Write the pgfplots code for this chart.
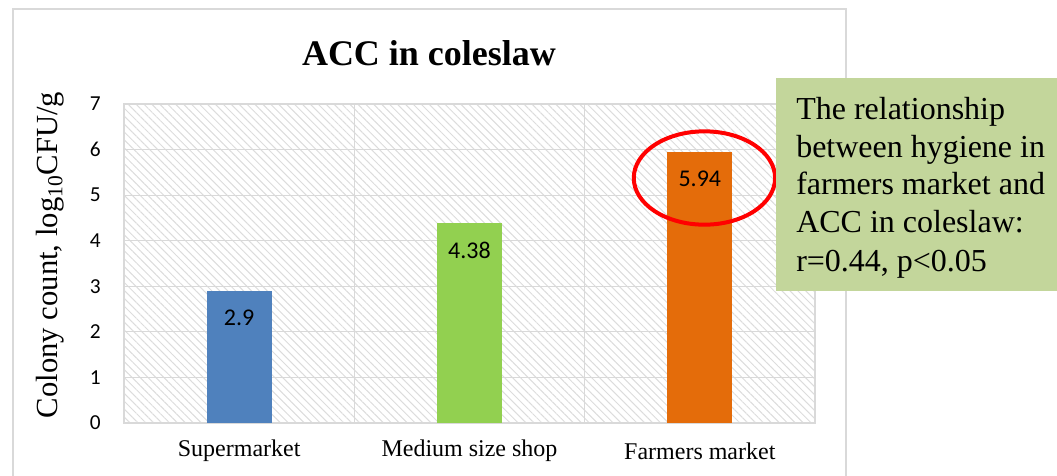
\documentclass[border=0pt]{standalone}
\usepackage{pgfplots}
\pgfplotsset{compat=1.18}
\usepackage{fontspec}
\setmainfont{Liberation Serif}
\newfontfamily\calibri{Carlito}
\usetikzlibrary{patterns.meta}
\definecolor{gridgray}{HTML}{D9D9D9}
\definecolor{hatch}{HTML}{DCDCDC}
\definecolor{barblue}{HTML}{4F81BD}
\definecolor{bargreen}{HTML}{92D050}
\definecolor{barorange}{HTML}{E46C0A}
\definecolor{boxgreen}{HTML}{C3D69B}
\definecolor{ellred}{HTML}{FF0000}
\begin{document}
\begin{tikzpicture}
\useasboundingbox (-93pt,-39pt) rectangle (699.75pt,317.25pt);
\draw[gridgray, line width=1.2pt] (-83.25pt,-60pt) -- (-83.25pt,310.5pt) -- (541.5pt,310.5pt) -- (541.5pt,-60pt);
\begin{axis}[
  scale only axis, width=518.25pt, height=239.25pt,
  xmin=-0.5, xmax=2.5, ymin=0, ymax=7,
  ytick={0,1,2,3,4,5,6,7},
  xtick={0,1,2},
  xticklabels={Supermarket, Medium size shop, Farmers market},
  minor xtick={0.5,1.5},
  xminorgrids=true, ymajorgrids=true,
  major grid style={gridgray, line width=0.9pt},
  minor grid style={gridgray, line width=0.9pt},
  axis line style={gridgray, line width=0.9pt},
  major tick length=0pt, minor tick length=0pt,
  tick style={draw=none},
  axis background/.style={pattern={Lines[angle=-45,distance=4.2pt,line width=0.75pt]}, pattern color=hatch},
  /pgf/number format/assume math mode=true,
  yticklabel style={font=\calibri\fontsize{16}{18}\selectfont, anchor=east, xshift=-14pt},
  xticklabel style={font=\fontsize{18}{21}\selectfont, anchor=center, yshift=-21pt},
  clip=false,
]
\addplot[ybar, bar width=48.75pt, fill=barblue, draw=none,
  nodes near coords, nodes near coords style={anchor=center, yshift=-20pt, font=\calibri\fontsize{18}{20}\selectfont, text=black}]
  coordinates {(0,2.9)};
\addplot[ybar, bar width=48.75pt, fill=bargreen, draw=none,
  nodes near coords, nodes near coords style={anchor=center, yshift=-20pt, font=\calibri\fontsize{18}{20}\selectfont, text=black}]
  coordinates {(1,4.38)};
\addplot[ybar, bar width=48.75pt, fill=barorange, draw=none,
  nodes near coords, nodes near coords style={anchor=center, yshift=-20pt, font=\calibri\fontsize{18}{20}\selectfont, text=black}]
  coordinates {(2,5.94)};
\draw[ellred, line width=3pt] (axis cs:2.02,5.376) ellipse [x radius=53pt, y radius=35pt];
\end{axis}
\fill[boxgreen] (489pt,99pt) rectangle (700pt,258.75pt);
\begin{scope}[every node/.style={anchor=base west, inner sep=0pt, font=\fontsize{24}{28}\selectfont}]
\node at (504pt,227.8pt) {The relationship};
\node at (504pt,199.3pt) {between hygiene in};
\node at (504pt,171pt) {farmers market and};
\node at (504pt,142.7pt) {ACC in coleslaw:};
\node at (504pt,113.5pt) {r=0.44, p<0.05};
\end{scope}
\node[font=\fontsize{27}{32}\selectfont\bfseries, anchor=base] at (228.75pt,267.75pt) {ACC in coleslaw};
\node[rotate=90, font=\fontsize{23}{27}\selectfont] at (-55.5pt,126pt) {Colony count, log\textsubscript{10}CFU/g};
\end{tikzpicture}
\end{document}
